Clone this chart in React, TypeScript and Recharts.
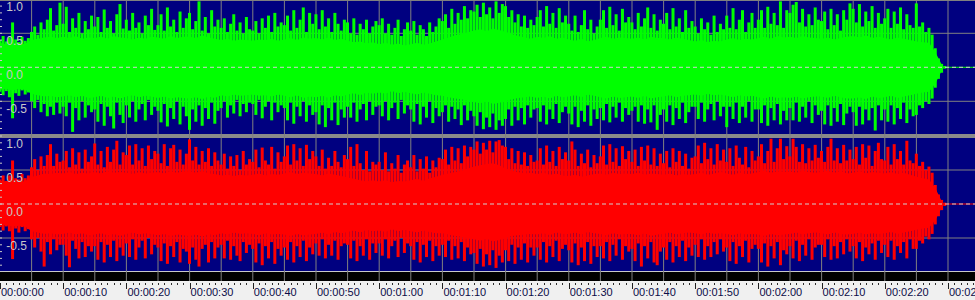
import React from 'react';
import { ComposedChart, Area, Bar, XAxis, YAxis, ReferenceLine, ReferenceArea } from 'recharts';

// ---- Data (amplitudes in hundredths of full scale) ----
// Peak envelope, one value every 0.5 s (0 .. 149.5 s)
const leftPeakHi = [
  40, 46, 38, 44, 66, 41, 37, 45, 39, 43,
  52, 60, 48, 66, 56, 70, 87, 54, 62, 95,
  64, 89, 52, 72, 58, 80, 50, 68, 56, 76,
  60, 74, 52, 85, 58, 68, 50, 78, 93, 57,
  70, 54, 80, 58, 66, 50, 76, 62, 86, 55,
  62, 78, 54, 88, 60, 70, 52, 82, 58, 72,
  80, 56, 68, 97, 54, 74, 50, 84, 60, 70,
  58, 72, 52, 64, 78, 54, 66, 50, 74, 56,
  54, 68, 50, 72, 58, 76, 52, 80, 60, 66,
  62, 76, 54, 84, 58, 70, 88, 52, 80, 64,
  78, 56, 84, 60, 72, 52, 80, 64, 54, 70,
  66, 50, 72, 48, 64, 56, 70, 50, 60, 68,
  62, 72, 50, 64, 48, 58, 70, 46, 56, 66,
  54, 68, 48, 62, 56, 46, 66, 52, 60, 72,
  68, 78, 58, 86, 64, 80, 70, 90, 72, 84,
  82, 92, 74, 95, 78, 88, 72, 97, 80, 93,
  90, 74, 84, 66, 78, 60, 76, 58, 70, 62,
  74, 84, 60, 90, 64, 80, 58, 87, 66, 76,
  64, 54, 76, 52, 62, 84, 56, 70, 50, 60,
  70, 84, 58, 89, 62, 78, 54, 86, 66, 74,
  66, 56, 80, 60, 72, 88, 58, 78, 54, 70,
  64, 80, 56, 87, 60, 72, 52, 84, 58, 68,
  60, 50, 72, 56, 66, 48, 76, 52, 64, 56,
  76, 58, 87, 56, 70, 84, 52, 66, 80, 58,
  70, 84, 58, 89, 64, 80, 62, 97, 58, 84,
  80, 92, 96, 66, 86, 60, 78, 62, 88, 70,
  68, 82, 56, 86, 62, 78, 54, 84, 70, 94,
  86, 66, 93, 60, 82, 68, 90, 58, 80, 64,
  72, 86, 58, 82, 64, 88, 56, 78, 62, 58,
  94, 60, 66, 52, 58, 48, 28, 13, 5, 2,
];
const leftPeakLo = [
  36, 41, 35, 44, 75, 38, 42, 34, 40, 37,
  50, 60, 48, 66, 54, 72, 58, 70, 52, 68,
  58, 72, 52, 95, 60, 78, 50, 74, 56, 66,
  62, 80, 54, 86, 58, 72, 90, 52, 70, 82,
  56, 74, 50, 80, 62, 54, 78, 48, 70, 58,
  64, 81, 54, 87, 60, 76, 50, 84, 58, 72,
  92, 62, 80, 56, 86, 60, 76, 52, 83, 64,
  60, 50, 74, 56, 68, 48, 72, 54, 66, 52,
  54, 70, 48, 75, 58, 50, 78, 52, 66, 56,
  60, 78, 52, 83, 58, 72, 50, 80, 56, 70,
  66, 84, 56, 88, 60, 78, 52, 85, 62, 74,
  58, 74, 52, 80, 62, 54, 78, 50, 70, 58,
  56, 72, 50, 78, 60, 52, 76, 48, 68, 56,
  62, 80, 54, 84, 58, 74, 50, 82, 60, 72,
  66, 56, 80, 58, 76, 62, 85, 56, 78, 64,
  72, 86, 66, 91, 74, 88, 68, 92, 78, 86,
  76, 62, 86, 58, 78, 60, 84, 56, 74, 62,
  60, 80, 56, 84, 62, 76, 54, 82, 66, 58,
  68, 84, 58, 88, 64, 80, 56, 86, 62, 76,
  60, 78, 54, 81, 58, 74, 52, 80, 60, 70,
  64, 58, 80, 56, 83, 62, 81, 56, 92, 70,
  62, 80, 56, 85, 60, 76, 52, 82, 66, 58,
  58, 76, 52, 80, 62, 54, 78, 50, 72, 58,
  88, 58, 76, 52, 82, 58, 74, 50, 80, 62,
  62, 82, 56, 86, 60, 78, 54, 84, 64, 78,
  60, 78, 52, 80, 58, 74, 50, 82, 56, 70,
  64, 84, 56, 86, 60, 80, 54, 85, 68, 58,
  66, 86, 58, 84, 62, 78, 60, 93, 56, 78,
  62, 80, 56, 84, 60, 76, 52, 82, 62, 72,
  70, 56, 60, 50, 54, 46, 30, 17, 8, 2,
];
const rightPeakHi = [
  36, 42, 34, 42, 64, 38, 36, 44, 38, 42,
  54, 66, 50, 70, 56, 72, 88, 56, 74, 62,
  64, 78, 54, 82, 58, 76, 52, 80, 62, 70,
  89, 58, 78, 54, 84, 62, 80, 93, 58, 76,
  72, 86, 58, 88, 64, 82, 56, 86, 66, 78,
  74, 60, 88, 56, 82, 87, 62, 80, 58, 74,
  95, 64, 84, 58, 78, 62, 82, 56, 76, 64,
  58, 74, 52, 70, 56, 72, 50, 78, 58, 66,
  62, 80, 54, 83, 64, 58, 84, 52, 76, 62,
  70, 86, 58, 88, 64, 82, 56, 87, 66, 78,
  70, 56, 80, 52, 68, 56, 78, 62, 54, 72,
  66, 84, 56, 88, 60, 50, 78, 48, 62, 58,
  62, 50, 76, 48, 60, 52, 72, 46, 58, 64,
  54, 72, 48, 66, 52, 70, 46, 64, 54, 68,
  66, 80, 58, 84, 64, 82, 60, 86, 70, 84,
  80, 92, 74, 90, 80, 93, 76, 92, 94, 86,
  84, 66, 82, 60, 78, 58, 76, 56, 72, 62,
  64, 82, 58, 86, 62, 78, 56, 84, 66, 76,
  64, 92, 80, 56, 74, 60, 80, 54, 72, 60,
  70, 86, 58, 88, 62, 82, 56, 85, 66, 78,
  62, 80, 56, 84, 64, 86, 58, 82, 56, 74,
  60, 78, 54, 82, 62, 78, 56, 74, 52, 68,
  70, 86, 60, 90, 66, 82, 58, 88, 64, 80,
  62, 82, 56, 86, 68, 58, 84, 54, 78, 64,
  70, 88, 60, 78, 96, 62, 82, 96, 66, 85,
  70, 96, 84, 62, 88, 60, 82, 64, 87, 68,
  78, 62, 84, 96, 64, 82, 60, 87, 64, 80,
  66, 84, 58, 88, 68, 86, 56, 78, 90, 66,
  64, 84, 58, 88, 66, 78, 58, 93, 64, 60,
  74, 56, 62, 50, 55, 46, 28, 14, 6, 2,
];
const rightPeakLo = [
  34, 39, 33, 40, 81, 36, 42, 34, 40, 37,
  52, 64, 50, 70, 92, 56, 74, 52, 68, 60,
  60, 76, 93, 54, 66, 80, 56, 78, 62, 70,
  62, 82, 56, 86, 60, 78, 54, 84, 64, 76,
  58, 78, 52, 82, 64, 54, 80, 50, 74, 60,
  64, 84, 58, 88, 62, 78, 56, 86, 66, 70,
  88, 64, 82, 92, 66, 60, 86, 56, 80, 64,
  60, 80, 54, 82, 62, 76, 84, 56, 72, 60,
  66, 86, 58, 90, 62, 80, 56, 88, 66, 76,
  64, 82, 56, 86, 62, 78, 54, 84, 64, 74,
  58, 76, 52, 80, 60, 76, 54, 82, 62, 58,
  60, 80, 54, 84, 62, 76, 52, 82, 58, 72,
  58, 76, 52, 80, 62, 54, 78, 50, 72, 58,
  62, 82, 56, 86, 60, 78, 54, 84, 62, 76,
  60, 78, 54, 82, 62, 80, 56, 84, 64, 74,
  72, 88, 66, 92, 74, 90, 68, 94, 76, 86,
  68, 84, 60, 88, 64, 82, 58, 86, 64, 76,
  64, 82, 56, 86, 62, 78, 54, 84, 66, 60,
  68, 86, 58, 90, 64, 84, 56, 88, 62, 78,
  62, 80, 56, 84, 60, 76, 52, 82, 62, 70,
  66, 84, 58, 92, 62, 80, 56, 86, 90, 70,
  64, 82, 56, 86, 62, 78, 54, 84, 64, 76,
  60, 78, 52, 82, 62, 78, 56, 74, 52, 70,
  64, 84, 56, 88, 62, 78, 54, 86, 66, 60,
  66, 86, 58, 92, 62, 80, 56, 90, 68, 74,
  62, 80, 54, 84, 60, 76, 52, 82, 64, 60,
  60, 78, 52, 82, 62, 80, 56, 74, 52, 70,
  62, 80, 56, 84, 64, 74, 58, 82, 54, 72,
  60, 78, 54, 82, 62, 72, 56, 80, 52, 66,
  66, 54, 58, 48, 52, 44, 30, 18, 9, 3,
];

// Dense body of the waveform, one value every 1 s (0 .. 149 s)
const leftCoreHi = [
  36, 34, 35, 33, 35, 40, 42, 44, 45, 43,
  45, 43, 46, 42, 44, 43, 45, 42, 46, 44,
  43, 41, 44, 42, 45, 44, 42, 46, 43, 45,
  45, 43, 47, 44, 42, 40, 42, 39, 41, 40,
  39, 41, 40, 42, 39, 41, 43, 40, 44, 42,
  43, 41, 44, 40, 42, 39, 37, 38, 35, 37,
  34, 36, 33, 35, 32, 34, 36, 33, 35, 38,
  41, 44, 47, 49, 51, 54, 56, 53, 57, 55,
  52, 49, 46, 44, 42, 45, 43, 46, 42, 44,
  41, 39, 42, 38, 40, 43, 45, 42, 44, 43,
  42, 44, 41, 45, 43, 43, 41, 44, 42, 40,
  38, 40, 37, 39, 38, 41, 43, 40, 42, 41,
  43, 45, 42, 46, 44, 45, 43, 46, 44, 43,
  42, 44, 41, 43, 45, 46, 44, 47, 43, 45,
  43, 41, 44, 42, 40, 38, 37, 36, 22, 4,
];
const leftCoreLo = [
  33, 32, 34, 32, 33, 39, 41, 43, 42, 44,
  43, 41, 44, 42, 45, 44, 42, 45, 43, 46,
  43, 41, 44, 42, 43, 45, 43, 46, 44, 45,
  46, 44, 47, 43, 45, 41, 43, 40, 42, 41,
  40, 42, 41, 43, 40, 42, 44, 41, 45, 43,
  44, 42, 45, 41, 43, 40, 38, 41, 37, 39,
  37, 39, 35, 38, 36, 38, 40, 37, 39, 41,
  42, 44, 46, 47, 49, 51, 53, 50, 54, 52,
  50, 47, 45, 44, 43, 45, 43, 46, 42, 44,
  43, 41, 44, 40, 42, 44, 46, 43, 45, 44,
  43, 45, 42, 46, 44, 43, 41, 44, 42, 41,
  40, 42, 39, 41, 40, 42, 44, 41, 43, 42,
  44, 46, 43, 45, 44, 45, 43, 46, 44, 43,
  43, 45, 42, 44, 46, 46, 44, 47, 43, 45,
  44, 42, 45, 43, 41, 39, 37, 36, 24, 5,
];
const rightCoreHi = [
  34, 33, 35, 32, 34, 40, 42, 45, 44, 46,
  45, 47, 44, 46, 45, 47, 45, 48, 46, 47,
  46, 44, 47, 45, 46, 47, 45, 48, 46, 48,
  48, 46, 49, 45, 44, 42, 43, 41, 43, 42,
  43, 45, 42, 44, 43, 45, 47, 44, 46, 45,
  44, 42, 45, 43, 41, 39, 37, 35, 33, 35,
  33, 35, 32, 34, 33, 35, 37, 34, 38, 40,
  43, 45, 47, 49, 52, 55, 57, 59, 60, 57,
  52, 49, 47, 45, 46, 44, 46, 43, 45, 42,
  41, 43, 40, 42, 44, 45, 43, 46, 44, 45,
  44, 46, 43, 45, 44, 43, 45, 42, 44, 43,
  44, 46, 43, 45, 47, 45, 43, 46, 44, 45,
  47, 49, 46, 48, 47, 48, 46, 49, 47, 46,
  47, 49, 46, 48, 45, 46, 48, 45, 47, 46,
  45, 47, 44, 46, 43, 40, 38, 36, 23, 4,
];
const rightCoreLo = [
  32, 31, 33, 32, 33, 40, 42, 44, 43, 45,
  44, 42, 45, 43, 46, 45, 43, 46, 44, 47,
  44, 42, 45, 43, 44, 46, 44, 47, 45, 46,
  47, 45, 48, 44, 46, 43, 45, 42, 44, 43,
  44, 46, 43, 45, 44, 45, 47, 44, 46, 45,
  44, 42, 45, 41, 43, 41, 39, 42, 38, 40,
  39, 41, 37, 40, 38, 40, 42, 39, 41, 43,
  43, 45, 47, 48, 50, 52, 54, 51, 55, 53,
  50, 47, 46, 45, 44, 45, 43, 46, 42, 44,
  44, 42, 45, 41, 43, 44, 46, 43, 45, 44,
  44, 46, 43, 47, 45, 44, 42, 45, 43, 42,
  43, 45, 42, 44, 43, 44, 46, 43, 45, 44,
  45, 47, 44, 46, 45, 44, 42, 45, 43, 42,
  43, 45, 42, 44, 45, 44, 42, 45, 43, 44,
  43, 41, 44, 42, 40, 38, 36, 35, 24, 5,
];

// Tick labels
const majorSeconds = [0, 10, 20, 30, 40, 50, 60, 70, 80, 90, 100, 110, 120, 130, 140, 150];
const timeLabels = [
  '00:00:00', '00:00:10', '00:00:20', '00:00:30', '00:00:40', '00:00:50',
  '00:01:00', '00:01:10', '00:01:20', '00:01:30', '00:01:40', '00:01:50',
  '00:02:00', '00:02:10', '00:02:20', '00:02:30',
];
const gridSeconds = [5, 10, 15, 20, 25, 30, 35, 40, 45, 50, 55, 60, 65, 70, 75, 80, 85, 90, 95, 100, 105, 110, 115, 120, 125, 130, 135, 140, 145, 150];
const amplitudeTicks = [1.0, 0.9, 0.8, 0.7, 0.6, 0.5, 0.4, 0.3, 0.2, 0.1, 0, -0.1, -0.2, -0.3, -0.4, -0.5, -0.6, -0.7, -0.8, -0.9];
const amplitudeLabelValues = [1.0, 0.5, 0, -0.5];
const amplitudeLabels = ['1.0', '0.5', '0.0', '-0.5'];

// ---- Layout constants ----
const W = 975;
const H = 300;
const AXIS_H = 19;
const PLOT_H = H - AXIS_H;
const PX_PER_SEC = 6.32;
const X_MAX = W / PX_PER_SEC;
const PX_PER_UNIT = 68;
const L_ZERO_Y = 67.3;
const R_ZERO_Y = 204;
const lDomain = [(L_ZERO_Y - PLOT_H) / PX_PER_UNIT, L_ZERO_Y / PX_PER_UNIT];
const rDomain = [(R_ZERO_Y - PLOT_H) / PX_PER_UNIT, R_ZERO_Y / PX_PER_UNIT];
const rAt = (py: number) => (R_ZERO_Y - py) / PX_PER_UNIT;
const secondTicks = Array.from({ length: Math.floor(X_MAX) + 1 }, (_, i) => i);

const SAMPLE_STEP = 0.5;

const rows = leftPeakHi.map((_, i) => {
  const ci = i % 2 === 0 ? i / 2 : -1;
  return {
    t: i * SAMPLE_STEP,
    lHi: leftPeakHi[i] / 100,
    lLo: -leftPeakLo[i] / 100,
    rHi: rightPeakHi[i] / 100,
    rLo: -rightPeakLo[i] / 100,
    lcHi: ci >= 0 ? leftCoreHi[ci] / 100 : undefined,
    lcLo: ci >= 0 ? -leftCoreLo[ci] / 100 : undefined,
    rcHi: ci >= 0 ? rightCoreHi[ci] / 100 : undefined,
    rcLo: ci >= 0 ? -rightCoreLo[ci] / 100 : undefined,
  };
});

const GREEN = '#00ff00';
const RED = '#ff0000';
const GRID = '#808080';

const TimeTick = (props: any) => {
  const { x, y, payload } = props;
  const idx = majorSeconds.indexOf(payload.value);
  const lx = Math.round(x) + 0.5;
  if (idx >= 0) {
    return (
      <g>
        <line x1={lx} x2={lx} y1={y + 2} y2={y + 8} stroke="#202020" strokeWidth={1} />
        <text x={x + 1} y={y + 15} fontSize={11} fontFamily="Liberation Sans, Arial, sans-serif" fill="#0c0c48">
          {timeLabels[idx]}
        </text>
      </g>
    );
  }
  return <line x1={lx} x2={lx} y1={y + 2} y2={y + 4} stroke="#303030" strokeWidth={1} />;
};

const AmpTick = (props: any) => {
  const { y, payload } = props;
  const idx = amplitudeLabelValues.indexOf(payload.value);
  return (
    <g>
      <line x1={0} x2={2} y1={y} y2={y} stroke="#c8c8c8" strokeWidth={1} />
      {idx >= 0 && (
        <text x={6.3} y={y + 11.5} fontSize={12} fontFamily="Liberation Sans, Arial, sans-serif" fill="#c8c8c8">
          {amplitudeLabels[idx]}
        </text>
      )}
    </g>
  );
};

export default function App() {
  return (
    <div style={{ position: 'absolute', left: 0, top: 0, width: W, height: H, background: '#f0f0f0', overflow: 'hidden' }}>
      <div style={{ position: 'absolute', left: 0, top: 0, width: W, height: PLOT_H, background: '#000080' }} />
      <div style={{ position: 'absolute', left: 0, top: 0 }}>
        <ComposedChart width={W} height={H} data={rows} margin={{ top: 0, right: 0, bottom: 0, left: 0 }}>
          {/* frame pieces */}
          <ReferenceArea xAxisId="main" yAxisId="R" y1={rAt(1)} y2={rAt(0)} fill={GRID} fillOpacity={1} stroke="none" ifOverflow="hidden" zIndex={-300} />
          <ReferenceArea xAxisId="main" yAxisId="R" y1={rAt(138)} y2={rAt(134)} fill="#8a8a8a" fillOpacity={1} stroke="none" ifOverflow="hidden" zIndex={-300} />
          <ReferenceArea xAxisId="main" yAxisId="R" y1={rAt(272)} y2={rAt(271)} fill="#c8c8c8" fillOpacity={1} stroke="none" ifOverflow="hidden" zIndex={-300} />
          <ReferenceArea xAxisId="main" yAxisId="R" y1={rAt(PLOT_H)} y2={rAt(272)} fill="#000000" fillOpacity={1} stroke="none" ifOverflow="hidden" zIndex={-300} />

          {/* grid */}
          {gridSeconds.map((s) => (
            <ReferenceLine key={'g' + s} xAxisId="main" yAxisId="R" x={s} stroke={GRID} strokeWidth={1} zIndex={-250} />
          ))}
          <ReferenceLine xAxisId="main" yAxisId="L" y={0.5} stroke={GRID} zIndex={-250} />
          <ReferenceLine xAxisId="main" yAxisId="L" y={-0.5} stroke={GRID} zIndex={-250} />
          <ReferenceLine xAxisId="main" yAxisId="R" y={0.5} stroke={GRID} zIndex={-250} />
          <ReferenceLine xAxisId="main" yAxisId="R" y={-0.5} stroke={GRID} zIndex={-250} />

          {/* waveforms */}
          <Area xAxisId="main" yAxisId="L" type="linear" dataKey={(d: any) => [d.lcLo, d.lcHi]} fill={GREEN} fillOpacity={1} stroke="none" connectNulls dot={false} activeDot={false} isAnimationActive={false} />
          <Bar xAxisId="main" yAxisId="L" dataKey={(d: any) => [d.lLo, d.lHi]} fill={GREEN} barSize={3} isAnimationActive={false} />
          <Area xAxisId="r" yAxisId="R" type="linear" dataKey={(d: any) => [d.rcLo, d.rcHi]} fill={RED} fillOpacity={1} stroke="none" connectNulls dot={false} activeDot={false} isAnimationActive={false} />
          <Bar xAxisId="r" yAxisId="R" dataKey={(d: any) => [d.rLo, d.rHi]} fill={RED} barSize={3} isAnimationActive={false} />

          {/* zero lines */}
          <ReferenceLine xAxisId="main" yAxisId="L" y={0} stroke={GREEN} zIndex={800} />
          <ReferenceLine xAxisId="main" yAxisId="L" y={0} stroke="#d0d0d0" strokeDasharray="4 3" zIndex={810} />
          <ReferenceLine xAxisId="main" yAxisId="R" y={0} stroke={RED} zIndex={800} />
          <ReferenceLine xAxisId="main" yAxisId="R" y={0} stroke="#d0d0d0" strokeDasharray="4 3" zIndex={810} />

          {/* axes */}
          <XAxis xAxisId="main" dataKey="t" type="number" domain={[0, X_MAX]} allowDataOverflow ticks={secondTicks} interval={0} tick={<TimeTick />} tickLine={false} axisLine={false} tickSize={0} tickMargin={0} height={AXIS_H} />
          <XAxis xAxisId="r" dataKey="t" type="number" domain={[0, X_MAX]} allowDataOverflow hide />
          <YAxis yAxisId="L" type="number" domain={lDomain} allowDataOverflow mirror ticks={amplitudeTicks} interval={0} tick={<AmpTick />} tickLine={false} axisLine={false} width={40} />
          <YAxis yAxisId="R" type="number" domain={rDomain} allowDataOverflow mirror ticks={amplitudeTicks} interval={0} tick={<AmpTick />} tickLine={false} axisLine={false} width={40} />
        </ComposedChart>
      </div>
    </div>
  );
}
